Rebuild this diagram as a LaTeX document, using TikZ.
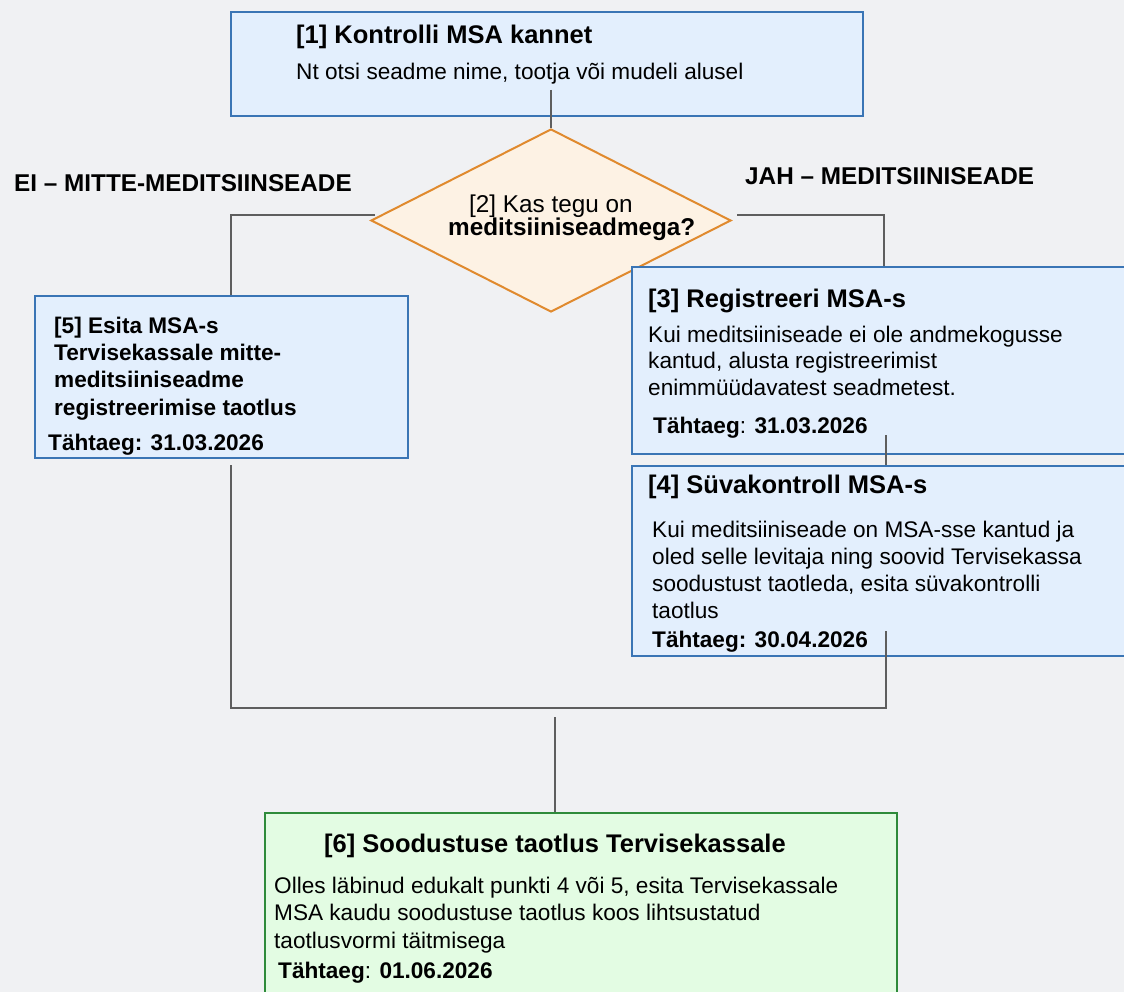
\documentclass[tikz,border=0pt]{standalone}
\usepackage{fontspec}
\setmainfont{Liberation Sans}
\usetikzlibrary{shapes.geometric}
\definecolor{taust}{HTML}{F0F1F3}
\definecolor{msasinine}{HTML}{3A75B5}
\definecolor{msataust}{HTML}{E3EFFD}
\definecolor{tkroheline}{HTML}{2E8B3A}
\definecolor{tktaust}{HTML}{E3FCE3}
\definecolor{kysoranz}{HTML}{E08A2E}
\definecolor{kystaust}{HTML}{FDF2E4}
\definecolor{joonhall}{HTML}{5E5E5E}

\begin{document}
\begin{tikzpicture}[x=1pt,y=-1pt,
  kast/.style={draw=msasinine,fill=msataust,line width=2pt,inner sep=0pt},
  rohekast/.style={draw=tkroheline,fill=tktaust,line width=2pt,inner sep=0pt},
  kysimus/.style={diamond,draw=kysoranz,fill=kystaust,line width=2pt,inner sep=0pt},
  joon/.style={draw=joonhall,line width=2pt},
  pealkiri/.style={anchor=base west,inner sep=0pt,font=\fontsize{25.5}{30}\selectfont\bfseries},
  sisu/.style={anchor=base west,inner sep=0pt,align=left,font=\fontsize{22.6}{27}\selectfont},
  haru/.style={anchor=base west,inner sep=0pt,font=\fontsize{24.3}{29}\selectfont}]
\useasboundingbox (0,0) rectangle (1124,992);
\clip (0,0) rectangle (1124,992);
\fill[taust] (0,0) rectangle (1124,992);
% First row: check
\node[kast,minimum width=632pt,minimum height=104pt] (kontroll) at (547,64) {};
\node[pealkiri] (kontrollT) at (296,44) {[1] Kontrolli MSA kannet};
\node[sisu] (kontrollS) at (296,80) {Nt otsi seadme nime, tootja või mudeli alusel};
% Second row: question
\node[kysimus,minimum width=360pt,minimum height=183pt] (kas) at (551,220.5) {};
\node[haru] (kasT) at (469,213) {[2] Kas tegu on};
\node[haru,font=\fontsize{24.3}{29}\selectfont\bfseries] (kasS) at (448,236) {meditsiiniseadmega?};
\node[haru,font=\fontsize{24.3}{29}\selectfont\bfseries] (ei) at (14,192) {EI – MITTE-MEDITSIINSEADE};
\node[haru,font=\fontsize{24.3}{29}\selectfont\bfseries] (jah) at (745,185) {JAH – MEDITSIINISEADE};
% Left branch (multi-line texts sit on their last line)
\node[kast,minimum width=373pt,minimum height=162pt] (esita) at (221.5,377) {};
\node[sisu,font=\fontsize{22.6}{27.3}\selectfont\bfseries] (esitaT) at (54,415)
  {[5] Esita MSA-s\\Tervisekassale mitte-\\meditsiiniseadme\\registreerimise taotlus};
\node[sisu,font=\fontsize{22.6}{27}\selectfont\bfseries] (esitaD) at (48,450) {Tähtaeg: 31.03.2026};
% Right branch
\node[kast,minimum width=518pt,minimum height=187pt] (registreeri) at (891,360.5) {};
\node[pealkiri] (registreeriT) at (648,307) {[3] Registreeri MSA-s};
\node[sisu,font=\fontsize{22.6}{26.5}\selectfont] (registreeriS) at (648,395)
  {Kui meditsiiniseade ei ole andmekogusse\\kantud, alusta registreerimist\\enimmüüdavatest seadmetest.};
\node[sisu] (registreeriD) at (653,433) {\textbf{Tähtaeg}: \textbf{31.03.2026}};
\node[kast,minimum width=518pt,minimum height=190pt] (syvakontroll) at (891,561) {};
\node[pealkiri] (syvakontrollT) at (648,493) {[4] Süvakontroll MSA-s};
\node[sisu] (syvakontrollS) at (652,618)
  {Kui meditsiiniseade on MSA-sse kantud ja\\oled selle levitaja ning soovid Tervisekassa\\soodustust taotleda, esita süvakontrolli\\taotlus};
\node[sisu,font=\fontsize{22.6}{27}\selectfont\bfseries] (syvakontrollD) at (652,647) {Tähtaeg: 30.04.2026};
% Last row
\node[rohekast,minimum width=632pt,minimum height=197pt] (soodustus) at (581,911.5) {};
\node[pealkiri] (soodustusT) at (324,852) {[6] Soodustuse taotlus Tervisekassale};
\node[sisu,font=\fontsize{22.6}{27.5}\selectfont] (soodustusS) at (274,948)
  {Olles läbinud edukalt punkti 4 või 5, esita Tervisekassale\\MSA kaudu soodustuse taotlus koos lihtsustatud\\taotlusvormi täitmisega};
\node[sisu] (soodustusD) at (278,978) {\textbf{Tähtaeg}: \textbf{01.06.2026}};

%%% Connectors below
\coordinate (k1) at (551,90);
\coordinate (k3) at (886,435);
\coordinate (k4) at (886,631);
\coordinate (k5) at (231,465);
\coordinate (liit) at (555,708);
\coordinate (k6) at (555,717);
\draw[joon] (k1) -- (kas.north);
\draw[joon] ([xshift=5pt,yshift=5pt]kas.west) -| ([xshift=9.5pt]esita.north);	% ei
\draw[joon] ([xshift=5pt,yshift=5pt]kas.east) -| ([xshift=-7pt]registreeri.north);	% jah
\draw[joon] (k3) -- (k3 |- syvakontroll.north);
\draw[joon] (k5) |- (liit) -| (k4);
\draw[joon] (k6) -- (k6 |- soodustus.north);
\end{tikzpicture}
\end{document}
